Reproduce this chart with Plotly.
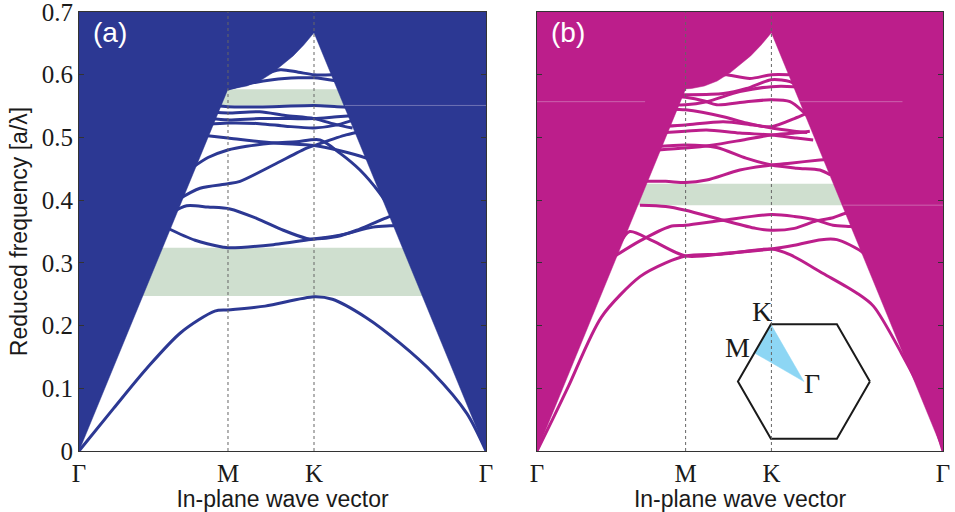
import math
import plotly.graph_objects as go

# ---------------- k-path (Γ-M-K-Γ for hexagonal lattice, units 2π/a) ----------------
K_M = 0.5774
K_K = 0.9107
K_G2 = 1.5774
tick_pos = [0.0, K_M, K_K, K_G2]
tick_txt = ["Γ", "M", "K", "Γ"]
y_ticks = [0, 0.1, 0.2, 0.3, 0.4, 0.5, 0.6, 0.7]

# light line (air) read along the path
lc_k = [0.0, 0.5774, 0.60, 0.65, 0.70, 0.75, 0.80, 0.83, 0.87, 0.9107, 1.5774]
lc_f = [0.0, 0.5774, 0.578, 0.582, 0.590, 0.603, 0.619, 0.630, 0.647, 0.667, 0.0]

# photonic band gaps
gaps_a = [(0.247, 0.324), (0.551, 0.577)]
gaps_b = [(0.392, 0.426)]

# ---------------- panel (a) bands ----------------
a1_k = [0, 0.134, 0.263, 0.395, 0.526, 0.577, 0.721, 0.911, 0.982, 1.112, 1.244, 1.373, 1.503, 1.5774]
a1_f = [0, 0.068, 0.132, 0.189, 0.223, 0.225, 0.231, 0.246, 0.242, 0.213, 0.172, 0.124, 0.060, 0]
a2_k = [0.34, 0.45, 0.559, 0.577, 0.753, 0.911, 1.011, 1.14, 1.205, 1.26]
a2_f = [0.356, 0.336, 0.325, 0.324, 0.329, 0.338, 0.344, 0.357, 0.359, 0.36]
a3_k = [0.36, 0.417, 0.50, 0.585, 0.688, 0.792, 0.882, 0.911, 1.0, 1.076, 1.14, 1.198, 1.25]
a3_f = [0.380, 0.391, 0.389, 0.386, 0.371, 0.352, 0.339, 0.338, 0.342, 0.352, 0.363, 0.373, 0.38]
a4_k = [0.38, 0.469, 0.577, 0.624, 0.753, 0.882, 0.911, 1.035, 1.10]
a4_f = [0.400, 0.419, 0.426, 0.430, 0.456, 0.483, 0.487, 0.504, 0.51]
a5_k = [0.44, 0.50, 0.577, 0.65, 0.753, 0.843, 0.934, 1.011, 1.089, 1.166, 1.20]
a5_f = [0.452, 0.468, 0.480, 0.486, 0.491, 0.493, 0.496, 0.475, 0.448, 0.411, 0.39]
a6_k = [0.49, 0.577, 0.76, 0.911, 1.0, 1.113, 1.15]
a6_f = [0.503, 0.499, 0.491, 0.487, 0.480, 0.467, 0.46]
a7_k = [0.50, 0.577, 0.70, 0.80, 0.911, 1.0, 1.08]
a7_f = [0.521, 0.523, 0.522, 0.518, 0.515, 0.520, 0.53]
a8_k = [0.51, 0.577, 0.70, 0.82, 0.911, 1.0, 1.07]
a8_f = [0.530, 0.528, 0.530, 0.530, 0.530, 0.533, 0.535]
a9_k = [0.52, 0.577, 0.70, 0.80, 0.911, 1.0, 1.06]
a9_f = [0.540, 0.539, 0.541, 0.535, 0.530, 0.52, 0.515]
a10_k = [0.53, 0.577, 0.75, 0.911, 1.0, 1.06]
a10_f = [0.551, 0.549, 0.549, 0.551, 0.549, 0.548]
a11_k = [0.577, 0.65, 0.75, 0.85, 0.911, 1.0]
a11_f = [0.577, 0.585, 0.592, 0.595, 0.595, 0.59]
a12_k = [0.70, 0.78, 0.85, 0.911, 0.98]
a12_f = [0.598, 0.608, 0.604, 0.600, 0.600]

# ---------------- panel (b) bands ----------------
b1_k = [0, 0.06, 0.122, 0.251, 0.40, 0.50, 0.577, 0.724, 0.911, 0.983, 1.112, 1.242, 1.307, 1.416, 1.52, 1.5774]
b1_f = [0, 0.05, 0.103, 0.214, 0.278, 0.300, 0.311, 0.314, 0.322, 0.313, 0.283, 0.252, 0.231, 0.156, 0.071, 0]
b2_k = [0.30, 0.40, 0.517, 0.577, 0.724, 0.911, 1.0, 1.086, 1.15, 1.216, 1.25]
b2_f = [0.31, 0.335, 0.358, 0.360, 0.368, 0.377, 0.374, 0.368, 0.360, 0.358, 0.357]
b3_k = [0.32, 0.36, 0.45, 0.577, 0.75, 0.911, 1.0, 1.105, 1.165, 1.261, 1.30]
b3_f = [0.33, 0.350, 0.335, 0.311, 0.316, 0.322, 0.328, 0.337, 0.337, 0.318, 0.30]
b4_k = [0.40, 0.50, 0.577, 0.724, 0.85, 0.911, 1.0, 1.086, 1.15, 1.20, 1.25]
b4_f = [0.392, 0.390, 0.384, 0.368, 0.355, 0.352, 0.355, 0.367, 0.372, 0.379, 0.38]
b5_k = [0.40, 0.50, 0.577, 0.659, 0.788, 0.911, 0.983, 1.099, 1.13]
b5_f = [0.430, 0.430, 0.428, 0.432, 0.448, 0.456, 0.459, 0.464, 0.465]
b6_k = [0.46, 0.577, 0.698, 0.812, 0.911, 1.009, 1.099, 1.14]
b6_f = [0.485, 0.488, 0.484, 0.467, 0.456, 0.451, 0.448, 0.44]
b7_k = [0.47, 0.577, 0.685, 0.80, 0.911, 1.0, 1.06]
b7_f = [0.480, 0.483, 0.488, 0.496, 0.504, 0.507, 0.51]
b8_k = [0.50, 0.577, 0.659, 0.788, 0.911, 1.008, 1.073]
b8_f = [0.508, 0.510, 0.512, 0.507, 0.504, 0.499, 0.496]
b9_k = [0.50, 0.577, 0.724, 0.84, 0.911, 1.0, 1.04]
b9_f = [0.518, 0.520, 0.525, 0.520, 0.517, 0.530, 0.537]
b10_k = [0.52, 0.577, 0.724, 0.814, 0.911, 1.0, 1.05]
b10_f = [0.545, 0.544, 0.533, 0.523, 0.515, 0.510, 0.508]
b11_k = [0.55, 0.577, 0.65, 0.698, 0.814, 0.911, 0.983, 1.034, 1.06]
b11_f = [0.565, 0.564, 0.558, 0.552, 0.557, 0.560, 0.557, 0.541, 0.53]
b12_k = [0.53, 0.577, 0.659, 0.788, 0.911, 0.995, 1.02]
b12_f = [0.552, 0.552, 0.557, 0.573, 0.581, 0.581, 0.58]
b13_k = [0.56, 0.577, 0.724, 0.814, 0.911, 0.983, 1.0]
b13_f = [0.568, 0.568, 0.570, 0.578, 0.592, 0.589, 0.585]
b14_k = [0.72, 0.737, 0.827, 0.911, 0.98]
b14_f = [0.600, 0.600, 0.594, 0.600, 0.600]

bands_a = [(a1_k, a1_f), (a2_k, a2_f), (a3_k, a3_f), (a4_k, a4_f), (a5_k, a5_f), (a6_k, a6_f),
           (a7_k, a7_f), (a8_k, a8_f), (a9_k, a9_f), (a10_k, a10_f), (a11_k, a11_f), (a12_k, a12_f)]
bands_b = [(b1_k, b1_f), (b2_k, b2_f), (b3_k, b3_f), (b4_k, b4_f), (b5_k, b5_f), (b6_k, b6_f),
           (b7_k, b7_f), (b8_k, b8_f), (b9_k, b9_f), (b10_k, b10_f), (b11_k, b11_f), (b12_k, b12_f),
           (b13_k, b13_f), (b14_k, b14_f)]

BLUE = "#2C3893"
MAGENTA = "#BC1E8B"
GREEN = "#CFDFCF"
SERIF = "Liberation Serif"
SANS = "Liberation Sans"
TXT = "#1a1a1a"

fig = go.Figure()

def add_panel(bands, color, xa, ya):
    for k, f in bands:
        fig.add_trace(go.Scatter(x=k, y=f, mode="lines", xaxis=xa, yaxis=ya,
                                 line=dict(color=color, width=3, shape="spline", smoothing=0.8),
                                 hoverinfo="skip", showlegend=False))
    # region above the light line
    px = [0.0] + lc_k + [K_G2, 0.0]
    py = [0.7] + lc_f + [0.7, 0.7]
    fig.add_trace(go.Scatter(x=px, y=py, mode="lines", fill="toself", fillcolor=color,
                             line=dict(color=color, width=0.5), xaxis=xa, yaxis=ya,
                             hoverinfo="skip", showlegend=False))

add_panel(bands_a, BLUE, "x", "y")
add_panel(bands_b, MAGENTA, "x2", "y2")

# faint seams in the light-cone fill
seams = [("x", "y", 1.03, K_G2, 0.551), ("x2", "y2", 1.02, 1.42, 0.557),
         ("x2", "y2", 0.0, 0.42, 0.557), ("x2", "y2", 1.19, K_G2, 0.392)]
for xa, ya, x0, x1, yv in seams:
    fig.add_trace(go.Scatter(x=[x0, x1], y=[yv, yv], mode="lines", xaxis=xa, yaxis=ya,
                             line=dict(color="rgba(235,225,240,0.35)", width=1),
                             hoverinfo="skip", showlegend=False))

# inset: first Brillouin zone (panel b)
INSET_CX, INSET_CY = 1.037, 0.1108      # centre in data units of panel (b)
INSET_R_PX = 66                          # circumradius in pixels
PX_PER_X = 406 / K_G2
PX_PER_Y = 439 / 0.7
hx, hy = [], []
for i in range(7):
    th = math.radians(60 * i)
    hx.append(INSET_CX + INSET_R_PX * math.cos(th) / PX_PER_X)
    hy.append(INSET_CY + INSET_R_PX * math.sin(th) / PX_PER_Y)
kx, ky = hx[2], hy[2]
mx, my = (hx[2] + hx[3]) / 2, (hy[2] + hy[3]) / 2
fig.add_trace(go.Scatter(x=[INSET_CX, kx, mx, INSET_CX], y=[INSET_CY, ky, my, INSET_CY],
                         mode="lines", fill="toself", fillcolor="#8DD6F4",
                         line=dict(color="#8DD6F4", width=0.5), xaxis="x2", yaxis="y2",
                         hoverinfo="skip", showlegend=False))
fig.add_trace(go.Scatter(x=hx, y=hy, mode="lines", line=dict(color=TXT, width=2),
                         xaxis="x2", yaxis="y2", hoverinfo="skip", showlegend=False))

annotations = [
    dict(x=kx - 9 / PX_PER_X, y=ky + 13 / PX_PER_Y, text="K", xref="x2", yref="y2",
         xanchor="center", yanchor="middle", showarrow=False,
         font=dict(family=SERIF, size=28, color=TXT)),
    dict(x=mx - 2 / PX_PER_X, y=my + 5 / PX_PER_Y, text="M", xref="x2", yref="y2",
         xanchor="right", yanchor="middle", showarrow=False,
         font=dict(family=SERIF, size=28, color=TXT)),
    dict(x=INSET_CX - 2 / PX_PER_X, y=INSET_CY - 2 / PX_PER_Y, text="Γ", xref="x2", yref="y2",
         xanchor="left", yanchor="middle", showarrow=False,
         font=dict(family=SERIF, size=28, color=TXT)),
    dict(x=0.045, y=0.7 - 0.004, text="(a)", xref="x", yref="y", xanchor="left", yanchor="top",
         showarrow=False, font=dict(family=SANS, size=28, color="white")),
    dict(x=0.045, y=0.7 - 0.004, text="(b)", xref="x2", yref="y2", xanchor="left", yanchor="top",
         showarrow=False, font=dict(family=SANS, size=28, color="white")),
]

shapes = []
for xr, yr, gaps in [("x", "y", gaps_a), ("x2", "y2", gaps_b)]:
    for lo, hi in gaps:
        shapes.append(dict(type="rect", xref=xr, yref=yr, x0=0, x1=K_G2, y0=lo, y1=hi,
                           fillcolor=GREEN, line=dict(width=0), layer="below"))
    for xv in (K_M, K_K):
        shapes.append(dict(type="line", xref=xr, yref=yr, x0=xv, x1=xv, y0=0, y1=0.7,
                           line=dict(color="#666666", width=1, dash="dot"), layer="above"))

xcommon = dict(range=[0, K_G2], tickvals=tick_pos, ticktext=tick_txt, ticks="",
               showline=True, mirror=True, linecolor="#333333", linewidth=1,
               showgrid=False, zeroline=False, automargin=False,
               tickfont=dict(family=SERIF, size=25, color=TXT),
               title=dict(text="In-plane wave vector", font=dict(family=SANS, size=23, color=TXT),
                          standoff=2))
ycommon = dict(range=[0, 0.7], tickvals=y_ticks, ticks="inside", ticklen=5, tickcolor="#333333",
               showline=True, mirror="ticks", linecolor="#333333", linewidth=1,
               showgrid=False, zeroline=False, automargin=False, ticklabeloverflow="allow",
               tickfont=dict(family=SERIF, size=25, color=TXT))

fig.update_layout(
    width=955, height=512,
    margin=dict(l=79, r=12, t=12, b=61),
    paper_bgcolor="white", plot_bgcolor="white",
    showlegend=False,
    xaxis=dict(domain=[0, 0.4711], anchor="y", **xcommon),
    xaxis2=dict(domain=[0.5301, 1], anchor="y2", **xcommon),
    yaxis=dict(anchor="x", title=dict(text="Reduced frequency [a/λ]",
                                      font=dict(family=SANS, size=23, color=TXT), standoff=7),
               **ycommon),
    yaxis2=dict(anchor="x2", showticklabels=False, **ycommon),
    shapes=shapes,
    annotations=annotations,
)

fig.write_html("out.html")
